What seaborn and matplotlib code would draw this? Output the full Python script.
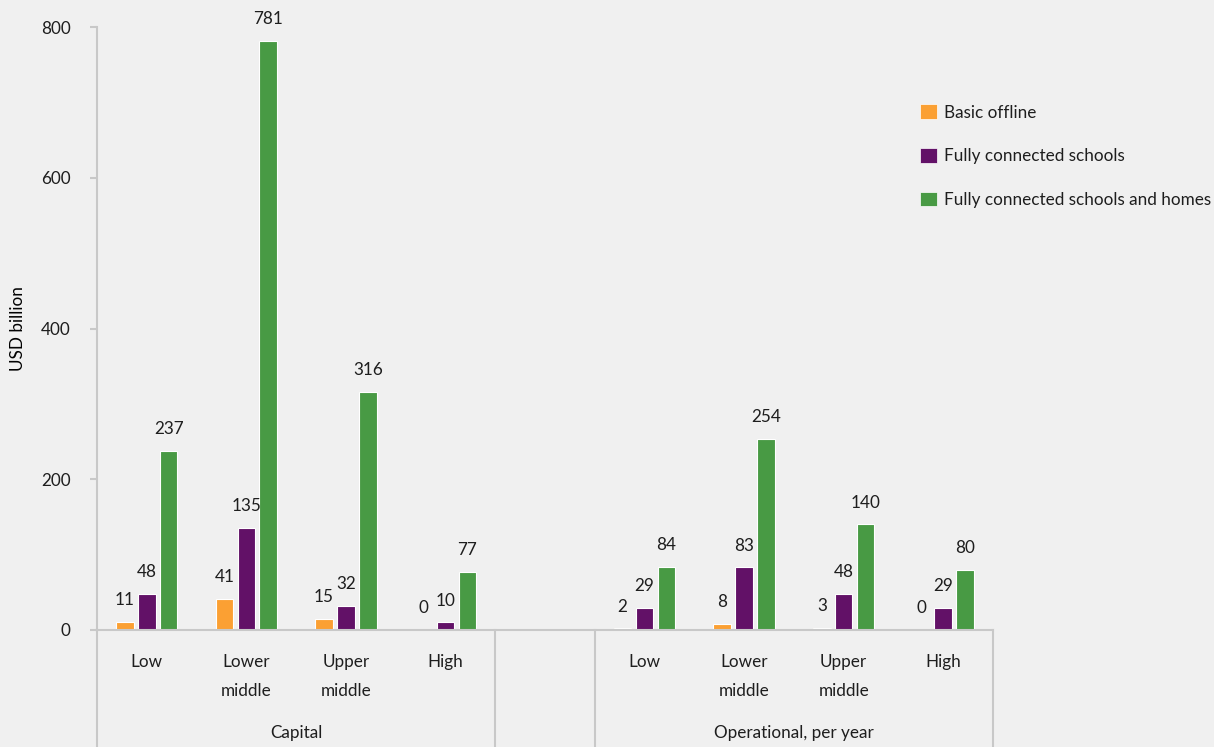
"""Costs of school connectivity by income group: capital vs operational."""

import matplotlib.pyplot as plt
import pandas as pd
import seaborn as sns
from matplotlib.patches import Patch
from matplotlib.transforms import blended_transform_factory

INCOME_GROUPS = ["Low", "Lower\nmiddle", "Upper\nmiddle", "High"]
COST_TYPES = ["Capital", "Operational, per year"]
SCENARIOS = ["Basic offline", "Fully connected schools", "Fully connected schools and homes"]
COLORS = ["#FBA033", "#621167", "#489A44"]

# values in USD billion, per cost type, per scenario, per income group
capital_basic = [11, 41, 15, 0]
capital_schools = [48, 135, 32, 10]
capital_homes = [237, 781, 316, 77]
operational_basic = [2, 8, 3, 0]
operational_schools = [29, 83, 48, 29]
operational_homes = [84, 254, 140, 80]

Y_TICKS = [0, 200, 400, 600, 800]

plt.rcParams["font.family"] = ["Lato", "DejaVu Sans"]
plt.rcParams["text.color"] = "#1e1e1e"
plt.rcParams["xtick.color"] = "#1e1e1e"
plt.rcParams["ytick.color"] = "#1e1e1e"
BG = "#f0f0f0"
GRID = "#c8c8c8"
FS = 12.3


def build_frame() -> pd.DataFrame:
    series = {
        "Capital": [capital_basic, capital_schools, capital_homes],
        "Operational, per year": [operational_basic, operational_schools, operational_homes],
    }
    rows = []
    for cost in COST_TYPES:
        for scen, vals in zip(SCENARIOS, series[cost]):
            for grp, v in zip(INCOME_GROUPS, vals):
                rows.append({"slot": f"{cost}|{grp}", "scenario": scen, "value": v})
    return pd.DataFrame(rows)


def main() -> None:
    df = build_frame()
    order = [f"Capital|{g}" for g in INCOME_GROUPS] + ["gap"] + [
        f"Operational, per year|{g}" for g in INCOME_GROUPS
    ]

    fig = plt.figure(figsize=(12.14, 7.47), dpi=100, facecolor=BG)
    ax = fig.add_axes([97 / 1214, 1 - 630 / 747, (993 - 97) / 1214, (630 - 27) / 747])
    ax.set_facecolor(BG)

    sns.barplot(
        data=df, x="slot", y="value", hue="scenario",
        order=order, hue_order=SCENARIOS, palette=COLORS, saturation=1,
        width=0.66, gap=0.2, edgecolor="white", linewidth=0.8,
        legend=False, ax=ax,
    )

    for cont in ax.containers:
        ax.bar_label(cont, fmt="%.0f", padding=10, fontsize=FS, color="#1e1e1e")

    ax.set_xlim(-0.5, len(order) - 0.5)
    ax.set_ylim(0, 800)
    ax.set_yticks(Y_TICKS)
    ax.tick_params(axis="y", length=5, width=1.5, color=GRID, pad=14, labelsize=FS,
                   labelcolor="#1e1e1e")
    ax.set_xticks(range(len(order)))
    ax.set_xticklabels(INCOME_GROUPS + [""] + INCOME_GROUPS, linespacing=2.0)
    ax.tick_params(axis="x", length=0, pad=17, labelsize=FS)
    ax.set_xlabel("")
    ax.set_ylabel("USD billion", fontsize=FS)
    ax.yaxis.set_label_coords(-(97 - 26) / 896, 0.5)

    for side in ["top", "right"]:
        ax.spines[side].set_visible(False)
    for side in ["left", "bottom"]:
        ax.spines[side].set_color(GRID)
        ax.spines[side].set_linewidth(1.5)

    # group separators below the axis
    trans = blended_transform_factory(ax.transData, ax.transAxes)
    bottom = -(747 - 630) / 603
    for x in [-0.5, 3.5, 4.5, 8.5]:
        ax.plot([x, x], [0, bottom], transform=trans, color=GRID, lw=1.5, clip_on=False)
    for x, name in zip([1.5, 6.5], COST_TYPES):
        ax.text(x, -(733 - 630) / 603, name, transform=trans, ha="center", va="center", fontsize=FS)

    handles = [Patch(facecolor=c, edgecolor="white", linewidth=0.5) for c in COLORS]
    fig.legend(
        handles, SCENARIOS, loc="upper left", bbox_to_anchor=(905 / 1214, 1 - 89 / 747),
        frameon=False, fontsize=FS, handlelength=0.95, handleheight=0.95,
        handletextpad=0.45, labelspacing=1.6,
    )

    fig.savefig("out.png", dpi=100, facecolor=BG)
    plt.close(fig)


if __name__ == "__main__":
    main()
